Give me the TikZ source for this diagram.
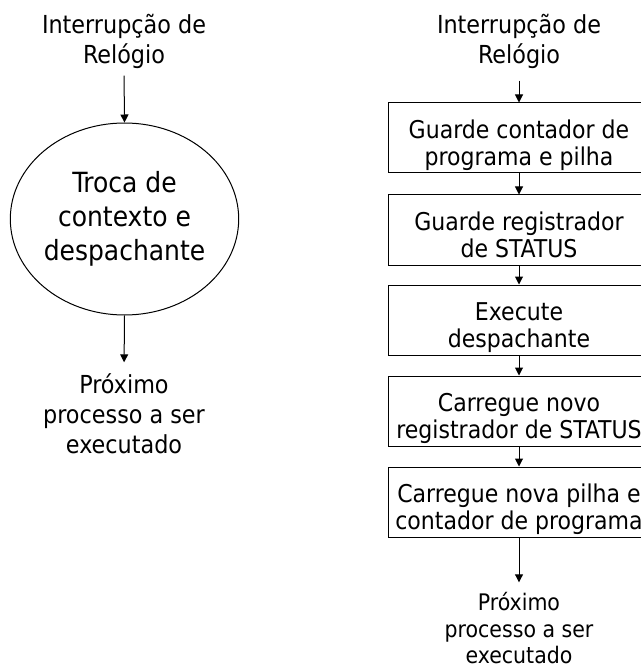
\documentclass[tikz,border=0pt]{standalone}
\usepackage{fontspec}
\setmainfont{DejaVu Sans Condensed}
\usetikzlibrary{arrows.meta,shapes.geometric}
\newcommand{\twoln}[4]{\rule{0pt}{#3}#1\\#2\rule[-#4]{0pt}{#4}}
\newcommand{\threeln}[5]{\rule{0pt}{#4}#1\\#2\\#3\rule[-#5]{0pt}{#5}}
\begin{document}
\begin{tikzpicture}[x=1pt,y=-1pt,
  arr/.style={line width=1pt,-{Triangle[length=8pt,width=8pt]}},
  lbl/.style={inner sep=0pt,align=center,font=\fontsize{24.8}{30}\selectfont},
  lblr/.style={inner sep=0pt,align=center,font=\fontsize{22.8}{26.5}\selectfont},
  ovalnode/.style={draw,line width=1pt,ellipse,inner sep=0pt,minimum width=223pt,minimum height=192pt,align=center,font=\fontsize{27.8}{34}\selectfont},
  procbox/.style={draw,line width=1pt,rectangle,inner sep=0pt,minimum width=262pt,minimum height=70pt,align=center,font=\fontsize{24.5}{26.5}\selectfont}]
\useasboundingbox (0,0) rectangle (640,668);
% left column
\node[lbl] (lt) at (124,41.5) {\twoln{Interrupção de}{Relógio}{21pt}{7pt}};
\node[ovalnode] (ell) at (124.5,219) {Troca de\\contexto e\\despachante};
\node[lbl] (lb) at (124,416.5) {\threeln{Próximo}{processo a ser}{executado}{21pt}{7pt}};
\draw[arr,shorten <=5pt] (lt.south) -- (ell.north);
\draw[arr,shorten >=10pt] (ell.south) -- (lb.north);
% right column
\node[lbl] (rt) at (519,41.5) {\twoln{Interrupção de}{Relógio}{21pt}{7pt}};
\node[procbox] (b1) at (519,138) {\twoln{Guarde contador de}{programa e pilha}{35pt}{7pt}};
\node[procbox] (b2) at (519,230) {\twoln{Guarde registrador}{de STATUS}{35pt}{7pt}};
\node[procbox] (b3) at (519,320) {\twoln{Execute}{despachante}{35pt}{7pt}};
\node[procbox] (b4) at (519,411) {\twoln{Carregue novo}{registrador de STATUS}{35pt}{7pt}};
\node[procbox] (b5) at (519,502) {\twoln{Carregue nova pilha e}{contador de programa}{35pt}{7pt}};
\node[lblr] (rb) at (519,630) {\threeln{Próximo}{processo a ser}{executado}{20pt}{6pt}};
\draw[arr,shorten <=10pt] (rt.south) -- (b1.north);
\draw[arr] (b1.south) -- (b2.north);
\draw[arr] (b2.south) -- (b3.north);
\draw[arr] (b3.south) -- (b4.north);
\draw[arr] (b4.south) -- (b5.north);
\draw[arr,shorten >=8pt] (b5.south) -- (rb.north);
\end{tikzpicture}
\end{document}
